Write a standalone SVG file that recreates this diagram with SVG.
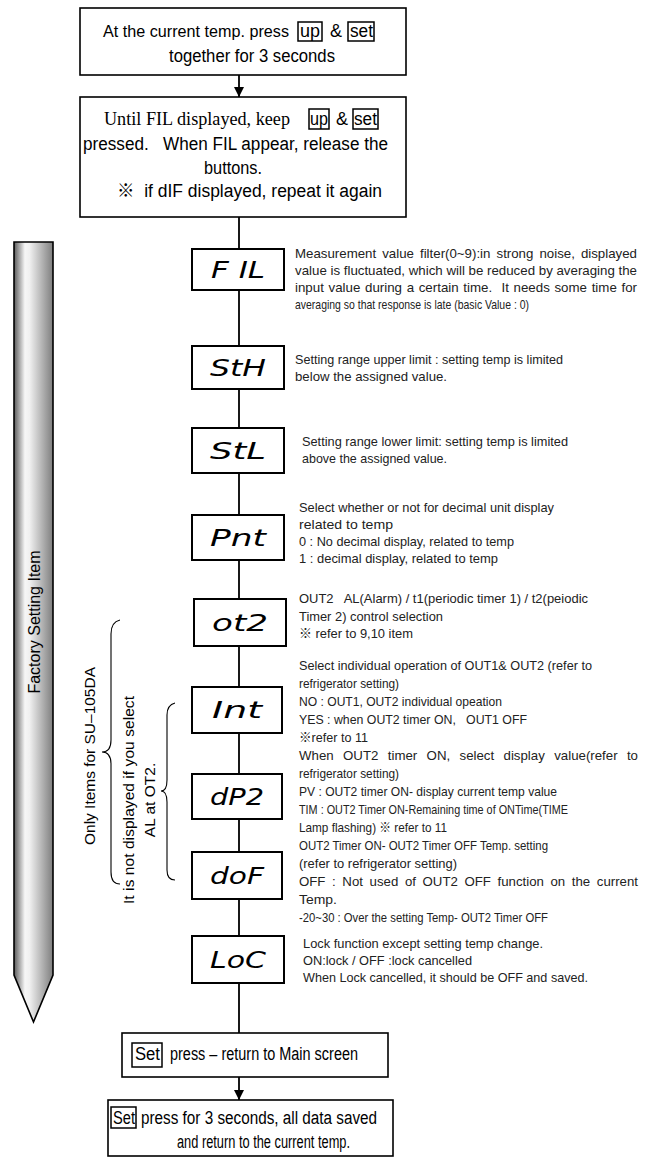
<svg xmlns="http://www.w3.org/2000/svg" width="646" height="1160" viewBox="0 0 646 1160">
<style>
.box{fill:#fff;stroke:#000;stroke-width:1.6}
.hl{fill:none;stroke:#000;stroke-width:1.5}
.disp{fill:#fff;stroke:#000;stroke-width:2}
.seg{font-family:"DejaVu Sans",sans-serif;font-style:italic;font-size:23px;fill:#000;text-anchor:middle}
.t{font-family:"Liberation Sans","Noto Sans CJK KR",sans-serif;font-size:18px;fill:#000}
.ts{font-family:"Liberation Serif",serif;font-size:18px;fill:#000}
.d{font-family:"Liberation Sans","Noto Sans CJK KR",sans-serif;font-size:13.5px;fill:#222}
.r{font-family:"Liberation Sans",sans-serif;font-size:15.5px;fill:#000;text-anchor:middle}
.ln{stroke:#000;stroke-width:1.8;fill:none}
.br{stroke:#000;stroke-width:1.1;fill:none}
</style>
<defs>
<marker id="ah" markerUnits="userSpaceOnUse" markerWidth="10" markerHeight="11" refX="10" refY="5" orient="auto">
<path d="M0,0 L10,5 L0,10 Z" fill="#000"/>
</marker>
<linearGradient id="gg" x1="0" y1="0" x2="1" y2="0">
<stop offset="0" stop-color="#5a5a5a"/>
<stop offset="0.28" stop-color="#f6f6f6"/>
<stop offset="0.4" stop-color="#f0f0f0"/>
<stop offset="1" stop-color="#7e7e7e"/>
</linearGradient>
</defs>

<g id="factory-arrow">
<path d="M14,242 L53,242 L53,975 L33.5,1022 L14,975 Z" fill="url(#gg)" stroke="#000" stroke-width="1.6"/>
<text class="r" style="font-size:16px" transform="translate(40,622) rotate(-90)">Factory Setting Item</text>
</g>

<g id="brace-su105da">
<path class="br" d="M120,620 Q111,622 111,634 L111,740 Q111,752 102,752 Q111,752 111,764 L111,872 Q111,884 120,884"/>
<text class="r" textLength="178" transform="translate(95,756) rotate(-90)">Only Items for SU–105DA</text>
</g>

<g id="brace-al">
<path class="br" d="M175,703 Q167,705 167,715 L167,780 Q167,791 161,791 Q167,791 167,802 L167,870 Q167,880 175,880"/>
<text class="r" textLength="208" transform="translate(134,800) rotate(-90)">It is not displayed if you select</text>
<text class="r" transform="translate(155,800) rotate(-90)">AL at OT2.</text>
</g>

<g id="connectors">
<line class="ln" x1="239" y1="75" x2="239" y2="97" marker-end="url(#ah)"/>
<line class="ln" x1="239" y1="217" x2="239" y2="249"/>
<line class="ln" x1="239" y1="290" x2="239" y2="346"/>
<line class="ln" x1="239" y1="389" x2="239" y2="428"/>
<line class="ln" x1="239" y1="473" x2="239" y2="515"/>
<line class="ln" x1="239" y1="560" x2="239" y2="599"/>
<line class="ln" x1="239" y1="646" x2="239" y2="687"/>
<line class="ln" x1="239" y1="733" x2="239" y2="774"/>
<line class="ln" x1="239" y1="819" x2="239" y2="852"/>
<line class="ln" x1="239" y1="899" x2="239" y2="936"/>
<line class="ln" x1="239" y1="983" x2="239" y2="1033"/>
<line class="ln" x1="239" y1="1077" x2="239" y2="1100" marker-end="url(#ah)"/>
</g>

<g id="start">
<rect class="box" x="80" y="8" width="326" height="67"/>
<text class="t" x="103" y="37" style="font-size:16.5px" textLength="186" lengthAdjust="spacingAndGlyphs">At the current temp. press</text>
<rect class="hl" x="298" y="22" width="24" height="19"/>
<text class="t" x="300" y="37" textLength="20" lengthAdjust="spacingAndGlyphs">up</text>
<text class="t" x="330" y="37">&amp;</text>
<rect class="hl" x="348" y="22" width="26" height="19"/>
<text class="t" x="350" y="37" textLength="23" lengthAdjust="spacingAndGlyphs">set</text>
<text class="t" x="169" y="62" textLength="166" lengthAdjust="spacingAndGlyphs">together for 3 seconds</text>
</g>

<g id="hold">
<rect class="box" x="80" y="97" width="326" height="120"/>
<text class="ts" x="104" y="125" textLength="186" lengthAdjust="spacingAndGlyphs">Until FIL displayed, keep</text>
<rect class="hl" x="309" y="109" width="20" height="20"/>
<text class="t" x="310" y="125" textLength="18" lengthAdjust="spacingAndGlyphs">up</text>
<text class="t" x="336" y="125">&amp;</text>
<rect class="hl" x="353" y="109" width="25" height="20"/>
<text class="t" x="354" y="125" textLength="23" lengthAdjust="spacingAndGlyphs">set</text>
<text class="t" x="83" y="150" textLength="305" lengthAdjust="spacingAndGlyphs" xml:space="preserve">pressed.   When FIL appear, release the</text>
<text class="t" x="204" y="174" textLength="58" lengthAdjust="spacingAndGlyphs">buttons.</text>
<text class="t" x="117" y="197" textLength="265" lengthAdjust="spacingAndGlyphs" xml:space="preserve">※  if dIF displayed, repeat it again</text>
</g>

<g id="FIL">
<rect class="disp" x="192" y="249" width="92" height="41"/>
<text class="seg" x="238" y="278" textLength="54" lengthAdjust="spacingAndGlyphs" xml:space="preserve">F IL</text>
<text class="d" x="295" y="258" textLength="342" lengthAdjust="spacingAndGlyphs" word-spacing="2.4">Measurement value filter(0~9):in strong noise, displayed</text>
<text class="d" x="295" y="275" textLength="342" lengthAdjust="spacingAndGlyphs">value is fluctuated, which will be reduced by averaging the</text>
<text class="d" x="295" y="292" textLength="342" lengthAdjust="spacingAndGlyphs" word-spacing="1" xml:space="preserve">input value during a certain time.  It needs some time for</text>
<text class="d" x="295" y="309" textLength="234" lengthAdjust="spacingAndGlyphs">averaging so that response is late (basic Value : 0)</text>
</g>

<g id="StH">
<rect class="disp" x="192" y="346" width="92" height="43"/>
<text class="seg" x="238" y="376" textLength="56" lengthAdjust="spacingAndGlyphs">StH</text>
<text class="d" x="295" y="364" textLength="268" lengthAdjust="spacingAndGlyphs">Setting range upper limit : setting temp is limited</text>
<text class="d" x="295" y="381" textLength="152" lengthAdjust="spacingAndGlyphs">below the assigned value.</text>
</g>

<g id="StL">
<rect class="disp" x="192" y="428" width="92" height="45"/>
<text class="seg" x="238" y="459" textLength="56" lengthAdjust="spacingAndGlyphs">StL</text>
<text class="d" x="302" y="446" textLength="266" lengthAdjust="spacingAndGlyphs">Setting range lower limit: setting temp is limited</text>
<text class="d" x="302" y="463" textLength="145" lengthAdjust="spacingAndGlyphs">above the assigned value.</text>
</g>

<g id="Pnt">
<rect class="disp" x="192" y="515" width="92" height="45"/>
<text class="seg" x="238" y="546" textLength="56" lengthAdjust="spacingAndGlyphs">Pnt</text>
<text class="d" x="299" y="512" textLength="255" lengthAdjust="spacingAndGlyphs">Select whether or not for decimal unit display</text>
<text class="d" x="299" y="529" textLength="94" lengthAdjust="spacingAndGlyphs">related to temp</text>
<text class="d" x="299" y="546" textLength="215" lengthAdjust="spacingAndGlyphs">0 : No decimal display, related to temp</text>
<text class="d" x="299" y="563" textLength="199" lengthAdjust="spacingAndGlyphs">1 : decimal display, related to temp</text>
</g>

<g id="ot2">
<rect class="disp" x="194" y="599" width="92" height="47"/>
<text class="seg" x="240" y="631" textLength="56" lengthAdjust="spacingAndGlyphs">ot2</text>
<text class="d" x="299" y="603" textLength="289" lengthAdjust="spacingAndGlyphs" xml:space="preserve">OUT2   AL(Alarm) / t1(periodic timer 1) / t2(peiodic</text>
<text class="d" x="299" y="621" textLength="144" lengthAdjust="spacingAndGlyphs">Timer 2) control selection</text>
<text class="d" x="299" y="638" textLength="114" lengthAdjust="spacingAndGlyphs">※ refer to 9,10 item</text>
</g>

<g id="Int">
<rect class="disp" x="192" y="687" width="90" height="46"/>
<text class="seg" x="237" y="718" textLength="50" lengthAdjust="spacingAndGlyphs">Int</text>
<text class="d" x="299" y="670" textLength="293" lengthAdjust="spacingAndGlyphs">Select individual operation of OUT1&amp; OUT2 (refer to</text>
<text class="d" x="299" y="688" textLength="100" lengthAdjust="spacingAndGlyphs">refrigerator setting)</text>
<text class="d" x="299" y="706" textLength="203" lengthAdjust="spacingAndGlyphs">NO : OUT1, OUT2 individual opeation</text>
<text class="d" x="299" y="724" textLength="228" lengthAdjust="spacingAndGlyphs" xml:space="preserve">YES : when OUT2 timer ON,   OUT1 OFF</text>
<text class="d" x="299" y="742" textLength="69" lengthAdjust="spacingAndGlyphs">※refer to 11</text>
</g>

<g id="dP2">
<rect class="disp" x="192" y="774" width="90" height="45"/>
<text class="seg" x="237" y="805" textLength="54" lengthAdjust="spacingAndGlyphs">dP2</text>
<text class="d" x="299" y="760" textLength="339" lengthAdjust="spacingAndGlyphs" word-spacing="5.8">When OUT2 timer ON, select display value(refer to</text>
<text class="d" x="299" y="778" textLength="100" lengthAdjust="spacingAndGlyphs">refrigerator setting)</text>
<text class="d" x="299" y="796" textLength="258" lengthAdjust="spacingAndGlyphs">PV : OUT2 timer ON- display current temp value</text>
<text class="d" x="299" y="814" textLength="269" lengthAdjust="spacingAndGlyphs">TIM : OUT2 Timer ON-Remaining time of ONTime(TIME</text>
<text class="d" x="299" y="832" textLength="148" lengthAdjust="spacingAndGlyphs">Lamp flashing) ※ refer to 11</text>
</g>

<g id="doF">
<rect class="disp" x="192" y="852" width="90" height="47"/>
<text class="seg" x="237" y="884" textLength="54" lengthAdjust="spacingAndGlyphs">doF</text>
<text class="d" x="299" y="850" textLength="249" lengthAdjust="spacingAndGlyphs">OUT2 Timer ON- OUT2 Timer OFF Temp. setting</text>
<text class="d" x="299" y="868" textLength="158" lengthAdjust="spacingAndGlyphs">(refer to refrigerator setting)</text>
<text class="d" x="299" y="886" textLength="339" lengthAdjust="spacingAndGlyphs" word-spacing="3">OFF : Not used of OUT2 OFF function on the current</text>
<text class="d" x="299" y="904" textLength="38" lengthAdjust="spacingAndGlyphs">Temp.</text>
<text class="d" x="299" y="922" textLength="249" lengthAdjust="spacingAndGlyphs">-20~30 : Over the setting Temp- OUT2 Timer OFF</text>
</g>

<g id="LoC">
<rect class="disp" x="192" y="936" width="92" height="47"/>
<text class="seg" x="238" y="968" textLength="56" lengthAdjust="spacingAndGlyphs">LoC</text>
<text class="d" x="303" y="948" textLength="240" lengthAdjust="spacingAndGlyphs">Lock function except setting temp change.</text>
<text class="d" x="303" y="965" textLength="169" lengthAdjust="spacingAndGlyphs">ON:lock / OFF :lock cancelled</text>
<text class="d" x="303" y="982" textLength="285" lengthAdjust="spacingAndGlyphs">When Lock cancelled, it should be OFF and saved.</text>
</g>

<g id="return-main">
<rect class="box" x="122" y="1033" width="266" height="44"/>
<rect class="hl" x="132" y="1043" width="30" height="24"/>
<text class="t" x="135" y="1060" textLength="25" lengthAdjust="spacingAndGlyphs">Set</text>
<text class="t" x="170" y="1060" textLength="188" lengthAdjust="spacingAndGlyphs">press – return to Main screen</text>
</g>

<g id="save">
<rect class="box" x="108" y="1100" width="285" height="56"/>
<rect class="hl" x="111" y="1107" width="25" height="21"/>
<text class="t" x="113" y="1124" textLength="22" lengthAdjust="spacingAndGlyphs">Set</text>
<text class="t" x="141" y="1124" textLength="236" lengthAdjust="spacingAndGlyphs">press for 3 seconds, all data saved</text>
<text class="t" x="177" y="1148" textLength="173" lengthAdjust="spacingAndGlyphs">and return to the current temp.</text>
</g>
</svg>
